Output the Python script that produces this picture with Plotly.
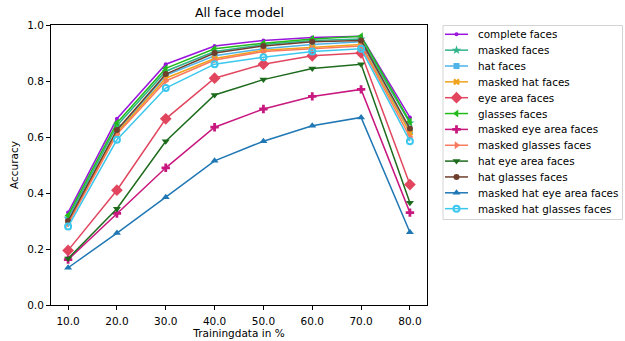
import plotly.graph_objects as go

# Share of data used for training (%)
training_pct = [10.0, 20.0, 30.0, 40.0, 50.0, 60.0, 70.0, 80.0]

complete_faces = [0.330, 0.665, 0.860, 0.925, 0.945, 0.955, 0.960, 0.670]
masked_faces = [0.310, 0.640, 0.835, 0.905, 0.930, 0.945, 0.950, 0.650]
hat_faces = [0.305, 0.620, 0.820, 0.890, 0.915, 0.930, 0.940, 0.620]
masked_hat_faces = [0.295, 0.615, 0.810, 0.880, 0.910, 0.920, 0.930, 0.615]
eye_area_faces = [0.195, 0.410, 0.665, 0.810, 0.860, 0.890, 0.900, 0.430]
glasses_faces = [0.320, 0.650, 0.845, 0.915, 0.935, 0.950, 0.960, 0.655]
masked_eye_area_faces = [0.162, 0.327, 0.490, 0.635, 0.700, 0.745, 0.770, 0.330]
masked_glasses_faces = [0.290, 0.610, 0.800, 0.875, 0.905, 0.915, 0.925, 0.600]
hat_eye_area_faces = [0.166, 0.344, 0.585, 0.750, 0.805, 0.845, 0.860, 0.365]
hat_glasses_faces = [0.300, 0.625, 0.825, 0.900, 0.925, 0.940, 0.945, 0.630]
masked_hat_eye_area_faces = [0.133, 0.257, 0.385, 0.515, 0.585, 0.640, 0.670, 0.260]
masked_hat_glasses_faces = [0.280, 0.590, 0.775, 0.860, 0.885, 0.905, 0.915, 0.585]

x_ticks = [10.0, 20.0, 30.0, 40.0, 50.0, 60.0, 70.0, 80.0]
y_ticks = [0.0, 0.2, 0.4, 0.6, 0.8, 1.0]

# (name, values, colour, marker symbol, marker size)
series = [
    ("complete faces", complete_faces, "#9a14dc", "circle", 4),
    ("masked faces", masked_faces, "#2fb38a", "star", 7),
    ("hat faces", hat_faces, "#4db3e8", "square", 6),
    ("masked hat faces", masked_hat_faces, "#f0a21a", "x", 6),
    ("eye area faces", eye_area_faces, "#e2465e", "diamond", 9),
    ("glasses faces", glasses_faces, "#22bb1c", "triangle-left", 7),
    ("masked eye area faces", masked_eye_area_faces, "#c8187f", "cross", 7),
    ("masked glasses faces", masked_glasses_faces, "#fa7a5e", "triangle-right", 7),
    ("hat eye area faces", hat_eye_area_faces, "#1d6b1d", "triangle-down", 7),
    ("hat glasses faces", hat_glasses_faces, "#6e3f2c", "circle", 6),
    ("masked hat eye area faces", masked_hat_eye_area_faces, "#1f77b4", "triangle-up", 7),
    ("masked hat glasses faces", masked_hat_glasses_faces, "#3cc8ee", "circle-open", 6),
]

W, H = 625, 341
# plot box in pixels (left, right, top, bottom)
PL, PR, PT, PB = 51, 427, 25, 305
# legend box and entry layout in pixels
LEG_L, LEG_R, LEG_T, LEG_B = 443, 622.5, 25.5, 219.5
LEG_ROW0, LEG_ROW_STEP = 34.3, 15.85
LEG_LINE_X0, LEG_LINE_X1, LEG_TEXT_X = 445, 468, 476

FONT = "DejaVu Sans"


def marker_for(color, symbol, size):
    m = dict(symbol=symbol, size=size, color=color)
    if symbol == "circle-open":
        m["line"] = dict(width=2, color=color)
    else:
        m["line"] = dict(width=0)
    return m


fig = go.Figure()
for name, vals, color, symbol, size in series:
    fig.add_trace(go.Scatter(
        x=training_pct, y=vals, name=name, mode="lines+markers",
        line=dict(color=color, width=1.5), marker=marker_for(color, symbol, size),
        showlegend=False, xaxis="x", yaxis="y",
    ))

# Legend drawn on a hidden pixel-space overlay axis
annotations = []
for i, (name, vals, color, symbol, size) in enumerate(series):
    yc = LEG_ROW0 + i * LEG_ROW_STEP
    xm = (LEG_LINE_X0 + LEG_LINE_X1) / 2
    fig.add_trace(go.Scatter(
        x=[LEG_LINE_X0, LEG_LINE_X1], y=[yc, yc], mode="lines",
        line=dict(color=color, width=1.5), showlegend=False,
        hoverinfo="skip", xaxis="x2", yaxis="y2",
    ))
    fig.add_trace(go.Scatter(
        x=[xm], y=[yc], mode="markers", marker=marker_for(color, symbol, size),
        showlegend=False, hoverinfo="skip", xaxis="x2", yaxis="y2",
    ))
    annotations.append(dict(
        x=LEG_TEXT_X, y=yc, xref="x2", yref="y2", text=name, showarrow=False,
        xanchor="left", yanchor="middle", font=dict(family=FONT, size=10.4, color="black"),
    ))

annotations.append(dict(
    x=(PL + PR) / 2 / W, y=1 - 13 / H, xref="paper", yref="paper",
    text="All face model", showarrow=False, xanchor="center", yanchor="middle",
    font=dict(family=FONT, size=12.5, color="black"),
))

axis_common = dict(
    showline=True, linecolor="black", linewidth=1, mirror=True,
    ticks="outside", ticklen=4, tickcolor="black",
    showgrid=False, zeroline=False, automargin=False,
    tickfont=dict(family=FONT, size=10.5, color="black"),
)

fig.update_layout(
    width=W, height=H,
    margin=dict(l=0, r=0, t=0, b=0),
    paper_bgcolor="white", plot_bgcolor="rgba(0,0,0,0)",
    font=dict(family=FONT, size=11, color="black"),
    xaxis=dict(axis_common, domain=[PL / W, PR / W], range=[6.5, 83.5],
               tickvals=x_ticks, ticktext=[f"{v:.1f}" for v in x_ticks],
               ticklabelstandoff=2,
               title=dict(text="Trainingdata in %", standoff=3,
                          font=dict(family=FONT, size=10.5))),
    yaxis=dict(axis_common, domain=[1 - PB / H, 1 - PT / H], range=[0, 1.0],
               tickvals=y_ticks, ticktext=[f"{v:.1f}" for v in y_ticks],
               title=dict(text="Accuracy", standoff=6,
                          font=dict(family=FONT, size=10.5))),
    xaxis2=dict(domain=[0, 1], range=[0, W], visible=False, fixedrange=True,
                anchor="y2"),
    yaxis2=dict(domain=[0, 1], range=[H, 0], visible=False, fixedrange=True,
                anchor="x2"),
    annotations=annotations,
    shapes=[dict(type="rect", xref="x2", yref="y2",
                 x0=LEG_L, x1=LEG_R, y0=LEG_T, y1=LEG_B,
                 line=dict(color="#d4d4d4", width=1), fillcolor="rgba(0,0,0,0)")],
    showlegend=False,
)

fig.write_html("out.html")
